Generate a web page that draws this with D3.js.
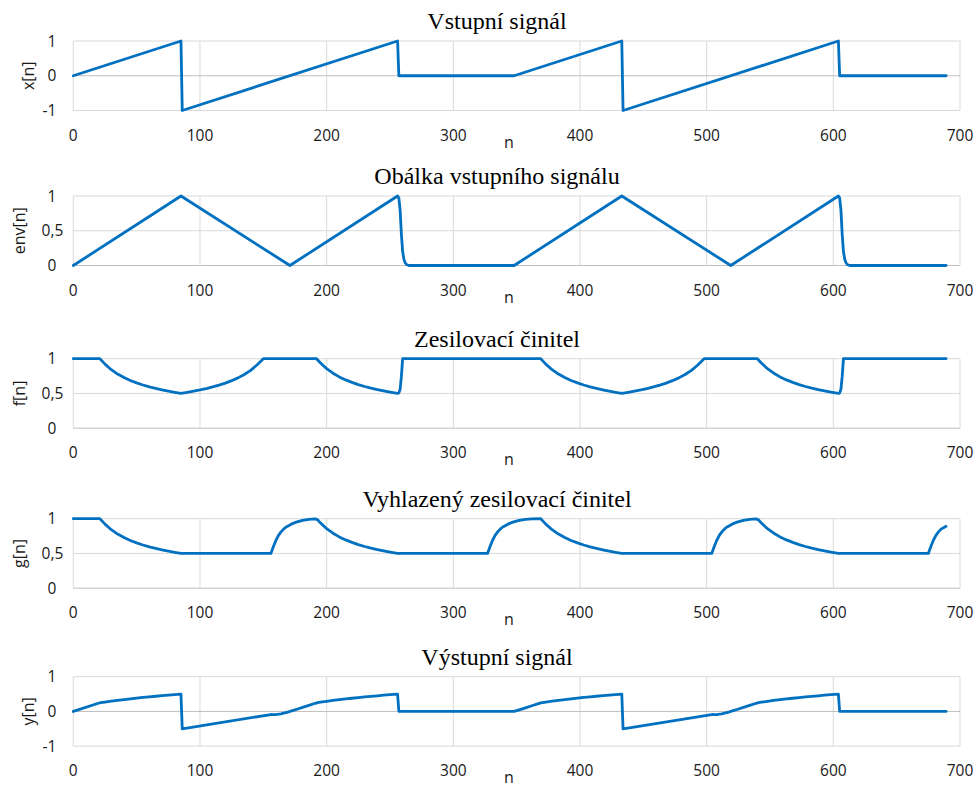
<!DOCTYPE html>
<html>
<head>
<meta charset="utf-8">
<script src="https://cdn.jsdelivr.net/npm/d3@7"></script>
<style>
  body { margin: 0; background: #fff; }
  .tick-label { font-family: "Open Sans", "Noto Sans", sans-serif; font-size: 15.5px; fill: #1a1a1a; }
  .axis-title { font-family: "Open Sans", "Noto Sans", sans-serif; font-size: 16px; fill: #1a1a1a; }
  .panel-title { font-family: "Liberation Serif", serif; font-size: 24px; fill: #000; }
</style>
</head>
<body>
<div id="chart"></div>
<script>
// Compressor signals - input, envelope, gain, smoothed gain, output

// x axis ticks shared by all panels
const nTicks = [0, 100, 200, 300, 400, 500, 600, 700];

// [n, value] points
const xPoints = [[0,0],[85,1],[86,-1],[256,1],[257,0],[348,0],[433,1],[434,-1],[604,1],[605,0],[689,0]];

const envPoints = [[0,0],[85,1],[171,0],[256,1],[257,0.97],[258,0.8],[259,0.45],[260,0.2],[261,0.09],[262,0.04],
  [263,0.015],[265,0],[348,0],[433,1],[519,0],[604,1],[605,0.97],[606,0.8],[607,0.45],[608,0.2],[609,0.09],
  [610,0.04],[611,0.015],[613,0],[689,0]];

const fPoints = [[0,1],[21,1],[23,0.961],[25,0.922],[30,0.842],[35,0.779],[40,0.729],[45,0.687],[50,0.652],[55,0.622],
  [60,0.595],[65,0.572],[70,0.551],[75,0.532],[80,0.515],[85,0.5],
  [90,0.515],[95,0.532],[100,0.55],[105,0.571],[110,0.594],[115,0.62],[120,0.649],[125,0.684],[130,0.724],
  [135,0.773],[140,0.833],[145,0.909],[150,1],
  [192,1],[195,0.941],[200,0.856],[205,0.791],[210,0.738],[215,0.695],[220,0.659],[225,0.627],[230,0.6],
  [235,0.576],[240,0.555],[245,0.536],[250,0.519],[256,0.5],
  [257,0.508],[258,0.56],[259,0.745],[260,1],
  [369,1],[371,0.961],[373,0.922],[378,0.842],[383,0.779],[388,0.729],[393,0.687],[398,0.652],[403,0.622],[408,0.595],
  [413,0.572],[418,0.551],[423,0.532],[428,0.515],[433,0.5],
  [438,0.515],[443,0.532],[448,0.55],[453,0.571],[458,0.594],[463,0.62],[468,0.649],[473,0.684],[478,0.724],
  [483,0.773],[488,0.833],[493,0.909],[498,1],
  [540,1],[543,0.941],[548,0.856],[553,0.791],[558,0.738],[563,0.695],[568,0.659],[573,0.627],[578,0.6],
  [583,0.576],[588,0.555],[593,0.536],[598,0.519],[604,0.5],
  [605,0.508],[606,0.56],[607,0.745],[608,1],[689,1]];

const gPoints = [[0,1],[21,1],[23,0.961],[25,0.922],[30,0.842],[35,0.779],[40,0.729],[45,0.687],[50,0.652],[55,0.622],
  [60,0.595],[65,0.572],[70,0.551],[75,0.532],[80,0.515],[85,0.5],
  [156,0.5],[158,0.6],[160,0.69],[162,0.76],[164,0.81],[166,0.85],[168,0.88],[170,0.9],[173,0.93],[176,0.95],
  [181,0.975],[186,0.99],[191,0.997],[193,0.983],
  [195,0.941],[200,0.856],[205,0.791],[210,0.738],[215,0.695],[220,0.659],[225,0.627],[230,0.6],
  [235,0.576],[240,0.555],[245,0.536],[250,0.519],[256,0.5],
  [327,0.5],[329,0.6],[331,0.69],[333,0.76],[335,0.81],[337,0.85],[339,0.88],[341,0.9],[344,0.93],[347,0.95],
  [352,0.975],[357,0.99],[362,0.997],[369,1],
  [371,0.961],[373,0.922],[378,0.842],[383,0.779],[388,0.729],[393,0.687],[398,0.652],[403,0.622],[408,0.595],
  [413,0.572],[418,0.551],[423,0.532],[428,0.515],[433,0.5],
  [504,0.5],[506,0.6],[508,0.69],[510,0.76],[512,0.81],[514,0.85],[516,0.88],[518,0.9],[521,0.93],[524,0.95],
  [529,0.975],[534,0.99],[539,0.997],[541,0.983],
  [543,0.941],[548,0.856],[553,0.791],[558,0.738],[563,0.695],[568,0.659],[573,0.627],[578,0.6],
  [583,0.576],[588,0.555],[593,0.536],[598,0.519],[604,0.5],
  [675,0.5],[677,0.6],[679,0.69],[681,0.76],[683,0.81],[685,0.85],[687,0.87],[689,0.89]];

const yPoints = [[0,0],[21,0.25],[23,0.26],[25,0.271],[30,0.297],[35,0.321],[40,0.343],[45,0.364],[50,0.384],
  [55,0.402],[60,0.42],[65,0.437],[70,0.454],[75,0.47],[80,0.485],[85,0.5],
  [86,-0.5],[156,-0.088],[158,-0.092],[160,-0.089],[162,-0.08],[164,-0.067],[166,-0.05],[168,-0.031],[170,-0.011],
  [171,0],[173,0.022],[176,0.056],[181,0.115],[186,0.175],[191,0.235],[193,0.254],[195,0.266],
  [200,0.292],[205,0.316],[210,0.339],[215,0.36],[220,0.38],[225,0.399],[230,0.417],[235,0.434],[240,0.451],
  [245,0.467],[250,0.482],[256,0.5],
  [257,0],[348,0],[352,0.046],[357,0.105],[362,0.164],[369,0.247],[373,0.271],[378,0.297],[383,0.321],[388,0.343],
  [393,0.364],[398,0.384],[403,0.402],[408,0.42],[413,0.437],[418,0.454],[423,0.47],[428,0.485],[433,0.5],
  [434,-0.5],[504,-0.088],[506,-0.092],[508,-0.089],[510,-0.08],[512,-0.067],[514,-0.05],[516,-0.031],[518,-0.011],
  [519,0],[521,0.022],[524,0.056],[529,0.115],[534,0.175],[539,0.235],[541,0.254],[543,0.266],
  [548,0.292],[553,0.316],[558,0.339],[563,0.36],[568,0.38],[573,0.399],[578,0.417],[583,0.434],[588,0.451],
  [593,0.467],[598,0.482],[604,0.5],
  [605,0],[689,0]];

// panel titles, axis labels and y ticks
const titles = ['Vstupní signál', 'Obálka vstupního signálu', 'Zesilovací činitel', 'Vyhlazený zesilovací činitel', 'Výstupní signál'];
const yLabels = ['x[n]', 'env[n]', 'f[n]', 'g[n]', 'y[n]'];
const yTickSets = [[-1, 0, 1], [0, 0.5, 1], [0, 0.5, 1], [0, 0.5, 1], [-1, 0, 1]];
const series = [xPoints, envPoints, fPoints, gPoints, yPoints];

function createChart() {
    const width = 980, height = 787;
    const left = 73.3, right = 960;
    const panelTops = [41, 196, 358.7, 518.7, 676.7];
    const panelH = 69.5;

    const svg = d3.select('#chart').append('svg')
        .attr('width', width)
        .attr('height', height);

    const x = d3.scaleLinear().domain([0, 700]).range([left, right]);

    series.forEach((data, i) => {
        const top = panelTops[i];
        const ticks = yTickSets[i];
        const y = d3.scaleLinear().domain(d3.extent(ticks)).range([top + panelH, top]);
        const hasDecimal = ticks.some(t => t % 1 !== 0);
        const g = svg.append('g');

        // vertical grid
        g.selectAll('.vgrid')
            .data(nTicks)
            .enter()
            .append('line')
            .attr('x1', d => x(d)).attr('x2', d => x(d))
            .attr('y1', top).attr('y2', top + panelH)
            .attr('stroke', '#d9d9d9')
            .attr('stroke-width', 1);

        // horizontal grid, zero line a bit darker
        g.selectAll('.hgrid')
            .data(ticks)
            .enter()
            .append('line')
            .attr('x1', left).attr('x2', right)
            .attr('y1', d => y(d)).attr('y2', d => y(d))
            .attr('stroke', d => d === 0 ? '#bfbfbf' : '#d9d9d9')
            .attr('stroke-width', 1);

        // y tick labels
        g.selectAll('.ytick')
            .data(ticks)
            .enter()
            .append('text')
            .attr('class', 'tick-label')
            .attr('x', d => d % 1 !== 0 ? left - 10 : left - 17)
            .attr('y', d => y(d))
            .attr('dy', '0.36em')
            .attr('text-anchor', 'end')
            .text(d => String(d).replace('.', ','));

        // x tick labels
        g.selectAll('.xtick')
            .data(nTicks)
            .enter()
            .append('text')
            .attr('class', 'tick-label')
            .attr('x', d => x(d))
            .attr('y', top + panelH + 30)
            .attr('text-anchor', 'middle')
            .text(d => d);

        // axis titles
        g.append('text')
            .attr('class', 'axis-title')
            .attr('x', 509)
            .attr('y', top + panelH + 37)
            .attr('text-anchor', 'middle')
            .text('n');

        g.append('text')
            .attr('class', 'axis-title')
            .attr('transform', `translate(${hasDecimal ? 19 : 28},${top + panelH / 2}) rotate(-90)`)
            .attr('text-anchor', 'middle')
            .attr('dy', '0.35em')
            .text(yLabels[i]);

        // panel title
        g.append('text')
            .attr('class', 'panel-title')
            .attr('x', 497)
            .attr('y', top - 12)
            .attr('text-anchor', 'middle')
            .text(titles[i]);

        // signal line
        const line = d3.line()
            .x(d => x(d[0]))
            .y(d => y(d[1]));

        g.append('path')
            .datum(data)
            .attr('d', line)
            .attr('fill', 'none')
            .attr('stroke', '#0070c0')
            .attr('stroke-width', 2.8)
            .attr('stroke-linejoin', 'round')
            .attr('stroke-linecap', 'round');
    });
}

createChart();
</script>
</body>
</html>
